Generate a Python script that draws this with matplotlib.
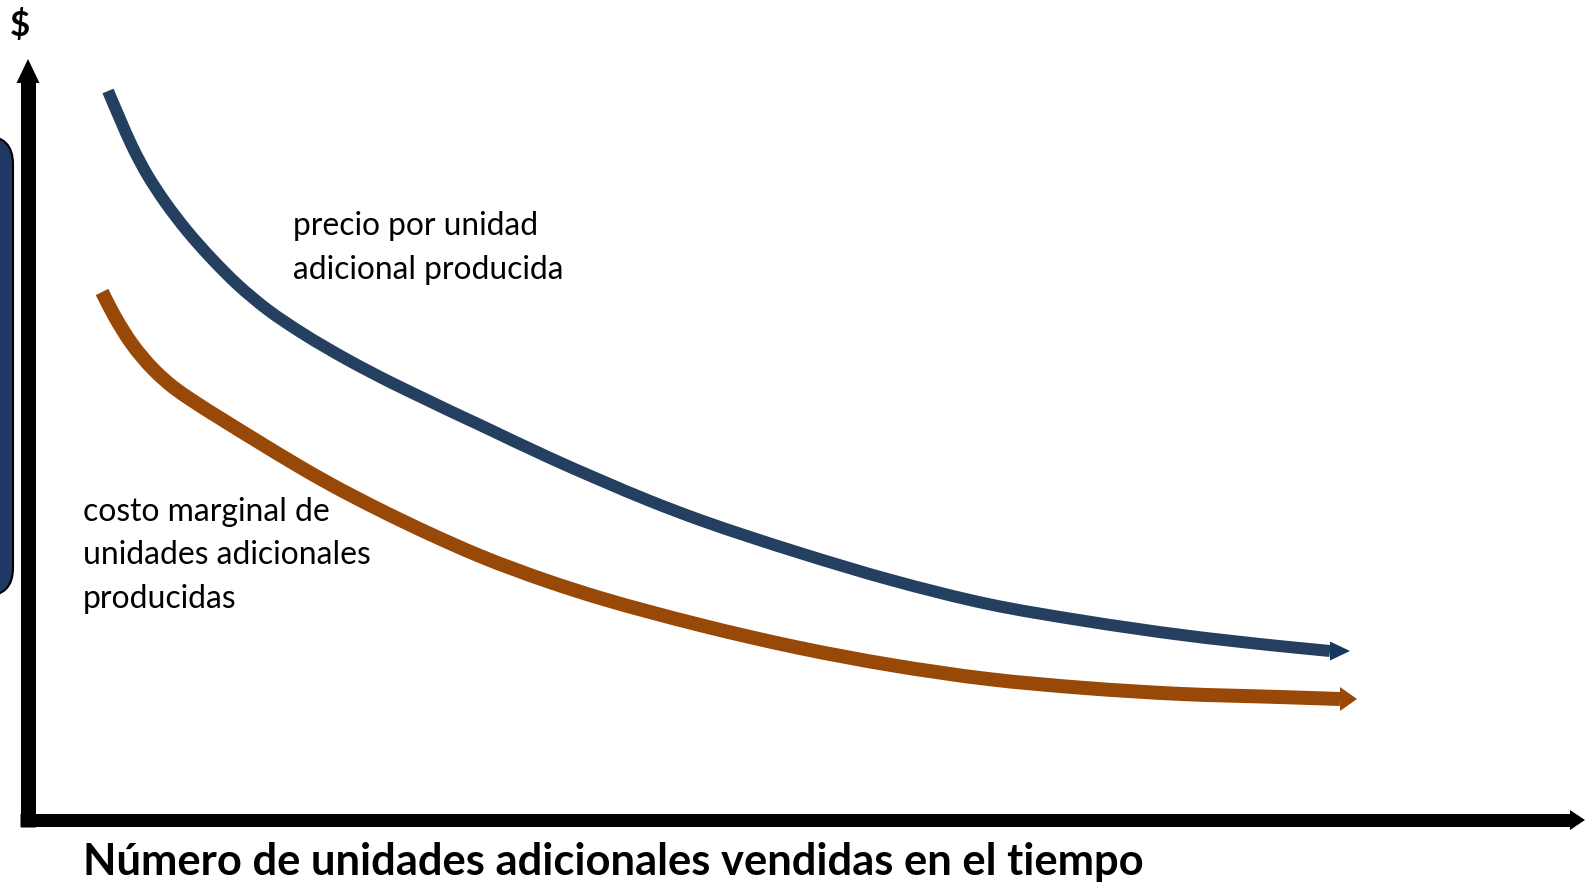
import matplotlib
matplotlib.use("Agg")
from matplotlib import pyplot as plt
from matplotlib.patches import FancyBboxPatch, PathPatch
from matplotlib.path import Path
import numpy as np

plt.rcParams["font.family"] = ["Lato", "DejaVu Sans"]

# curve points (origin = corner of the axes)
precio_x = [80, 92, 104, 120, 137, 160, 184, 210, 240, 274, 320, 362, 395, 422, 452,
            522, 572, 622, 672, 722, 772, 863, 960, 1057, 1154, 1251, 1302]
precio_y = [729, 701, 674, 644, 618, 588, 561, 535, 510, 487, 460, 438, 422, 409, 395,
            362, 340, 319, 300, 283, 267, 240, 216, 199, 185, 174, 169]

costo_x = [74, 87, 104, 126, 145, 162, 195, 229, 262, 302, 352, 402, 452, 522, 572,
           622, 672, 722, 772, 863, 960, 1057, 1154, 1251, 1312]
costo_y = [528, 503, 476, 450, 433, 421, 400, 379, 359, 336, 310, 286, 264, 238, 222,
           208, 195, 183, 172, 155, 141, 132, 126, 123, 121]

precio_lines = ["precio por unidad", "adicional producida"]
costo_lines = ["costo marginal de", "unidades adicionales", "producidas"]
x_title = "Número de unidades adicionales vendidas en el tiempo"
y_title = "$"

BLUE = "#243f60"
BLUE_HEAD = "#17375e"
ORANGE = "#984807"
BOX = "#203864"
PT = 0.72  # points per pixel at dpi 100


def smooth_path(xs, ys):
    # smooth curve through the points (cubic bezier pieces, like a smoothed line)
    pts = np.column_stack([xs, ys]).astype(float)
    d = np.hypot(*np.diff(pts, axis=0).T)
    t = np.concatenate([[0], np.cumsum(d)])
    m = np.gradient(pts, t, axis=0)
    verts = [pts[0]]
    codes = [Path.MOVETO]
    for i in range(len(pts) - 1):
        verts += [pts[i] + m[i] * d[i] / 3, pts[i + 1] - m[i + 1] * d[i] / 3, pts[i + 1]]
        codes += [Path.CURVE4] * 3
    return Path(verts, codes)


def head(ax, x, y, length, half_w, color):
    ax.annotate("", xy=(x + length, y), xytext=(x - 1, y),
                arrowprops=dict(arrowstyle="-|>,head_length=%f,head_width=%f" % (length * PT, half_w * PT),
                                mutation_scale=1, fc=color, ec="none", lw=0,
                                shrinkA=0, shrinkB=0), zorder=3)


fig = plt.figure(figsize=(15.93, 8.87), dpi=100)
ax = fig.add_axes([0, 0, 1, 1])
ax.set_xlim(-28, 1565)
ax.set_ylim(-66, 821)
ax.axis("off")

# partly hidden rounded box on the left edge
ax.add_patch(FancyBboxPatch((-80, 224), 65, 460,
                            boxstyle="round,pad=0,rounding_size=28",
                            fc=BOX, ec="black", lw=1.5, zorder=1))

# axes with arrow heads
ax.plot([0, 0], [-7, 740], color="black", lw=15 * PT, solid_capstyle="butt", zorder=3)
ax.annotate("", xy=(0, 761), xytext=(0, 735),
            arrowprops=dict(arrowstyle="-|>,head_length=%f,head_width=%f" % (24 * PT, 11.5 * PT),
                            mutation_scale=1, fc="black", ec="none", lw=0,
                            shrinkA=0, shrinkB=0), zorder=3)
ax.plot([-8, 1546], [0, 0], color="black", lw=13 * PT, solid_capstyle="butt", zorder=3)
ax.annotate("", xy=(1557, 0), xytext=(1542, 0),
            arrowprops=dict(arrowstyle="-|>,head_length=%f,head_width=%f" % (15 * PT, 10 * PT),
                            mutation_scale=1, fc="black", ec="none", lw=0,
                            shrinkA=0, shrinkB=0), zorder=3)

# curves
ax.add_patch(PathPatch(smooth_path(precio_x, precio_y), fill=False, ec=BLUE,
                       lw=12 * PT, capstyle="butt", joinstyle="round", zorder=2))
head(ax, precio_x[-1], precio_y[-1], 20, 9.5, BLUE_HEAD)
ax.add_patch(PathPatch(smooth_path(costo_x, costo_y), fill=False, ec=ORANGE,
                       lw=14 * PT, capstyle="butt", joinstyle="round", zorder=2))
head(ax, costo_x[-1], costo_y[-1], 17, 12, ORANGE)

# texts
precio_txt = [ax.text(265, y, s, fontsize=16, va="baseline", zorder=4)
              for s, y in zip(precio_lines, [586, 542])]
costo_txt = [ax.text(55, y, s, fontsize=16, va="baseline", zorder=4)
             for s, y in zip(costo_lines, [300, 257, 213])]
xt = ax.text(55, -54, x_title, fontsize=26, fontweight="bold", va="baseline")
yt = ax.text(-8, 796, y_title, fontsize=25, fontweight="bold", ha="center", va="center")

# scale the font sizes so the text spans match the picture
fig.canvas.draw()
r = fig.canvas.get_renderer()
for group, ref, target in [(precio_txt, 1, 272), (costo_txt, 1, 290), ([xt], 0, 1062)]:
    w = group[ref].get_window_extent(r).width
    for t in group:
        t.set_fontsize(t.get_fontsize() * target / w)

fig.savefig("out.png", dpi=100, facecolor="white")
